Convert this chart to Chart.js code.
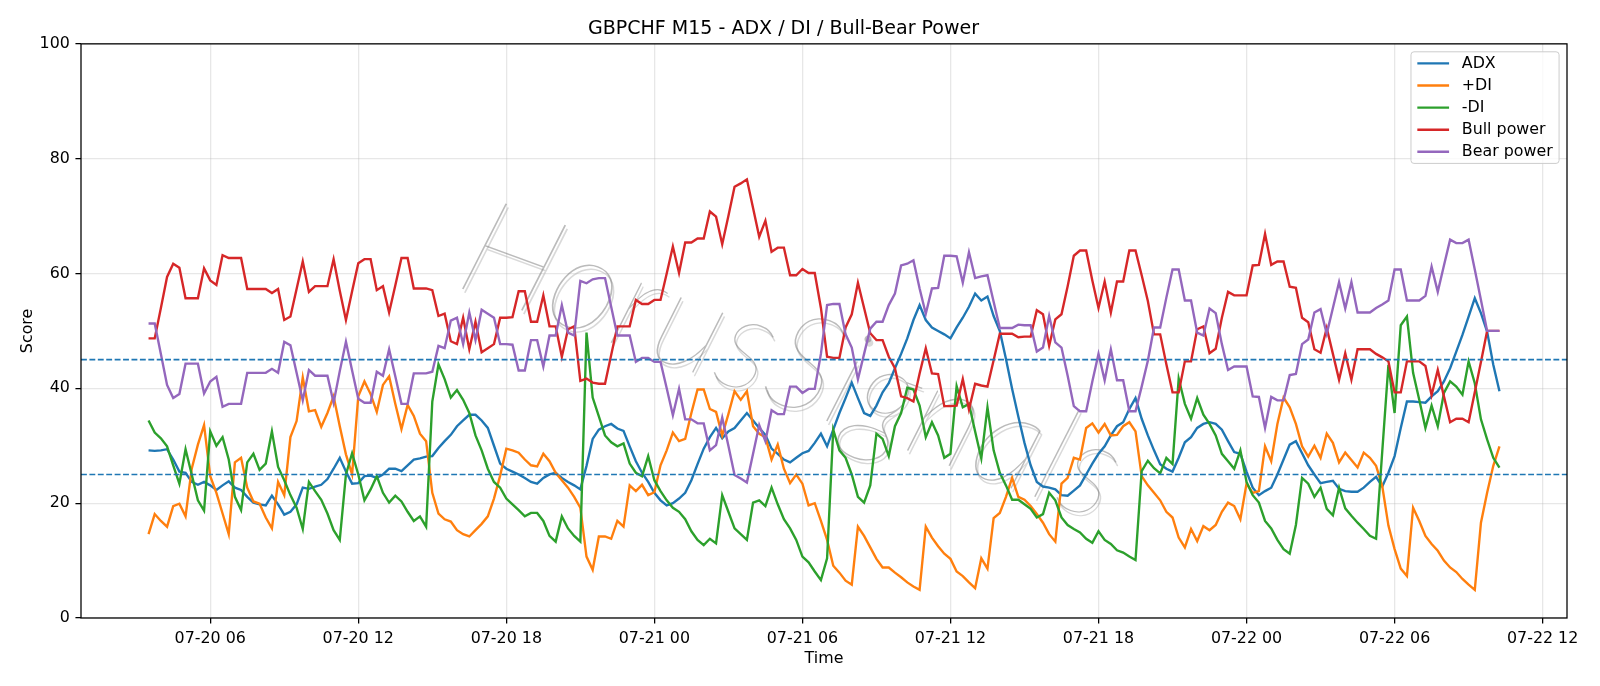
<!DOCTYPE html>
<html>
<head>
<meta charset="utf-8">
<title>GBPCHF M15 - ADX / DI / Bull-Bear Power</title>
<script src="https://cdn.jsdelivr.net/npm/chart.js@4.4.0/dist/chart.umd.min.js"></script>
<style>
  html, body { margin: 0; padding: 0; background: #fff; }
  #wrap { width: 1600px; height: 686px; }
</style>
</head>
<body>
<div id="wrap"><canvas id="chart" width="1600" height="686"></canvas></div>
<script>
// time axis: hours counted from 07-20 00:00, one bar every 15 minutes
const firstHour = 3.5;
const stepHours = 0.25;
const timeTicks = [6, 12, 18, 24, 30, 36, 42, 48, 54, 60];
const scoreTicks = [0, 20, 40, 60, 80, 100];
const thresholds = [25, 45];

const adx = [
  29.2, 29.1, 29.2, 29.4, 27.6, 25.5, 25.3, 23.7, 23.2, 23.7,
  23.1, 22.3, 23.1, 23.8, 22.7, 22.3, 21.1, 20.1, 19.8, 19.6,
  21.3, 19.8, 18.0, 18.5, 19.8, 22.7, 22.5, 22.9, 23.2, 24.2,
  26.0, 27.9, 25.5, 23.4, 23.5, 24.7, 24.8, 24.4, 25.0, 26.0,
  26.0, 25.6, 26.6, 27.6, 27.8, 28.1, 28.2, 29.6, 30.8, 31.9,
  33.4, 34.4, 35.4, 35.4, 34.4, 33.1, 30.0, 26.9, 26.0, 25.5,
  25.0, 24.4, 23.7, 23.4, 24.4, 25.0, 25.3, 24.4, 23.7, 23.1,
  22.4, 26.5, 31.2, 32.8, 33.4, 33.8, 33.0, 32.6, 29.9, 27.3,
  25.3, 23.7, 21.8, 20.5, 19.6, 20.0, 20.8, 21.8, 24.0, 26.8,
  29.5, 31.5, 33.1, 31.3, 32.5, 33.1, 34.4, 35.7, 34.4, 33.1,
  31.9, 29.5, 28.6, 27.6, 27.1, 27.9, 28.7, 29.1, 30.5, 32.1,
  29.9, 32.8, 35.7, 38.3, 41.0, 38.3, 35.7, 35.2, 37.0, 39.3,
  40.9, 43.5, 46.0, 48.7, 51.9, 54.5, 51.9, 50.6, 50.0, 49.4,
  48.7, 50.6, 52.3, 54.2, 56.5, 55.3, 56.0, 52.6, 50.0, 45.1,
  39.9, 35.1, 30.5, 26.6, 23.7, 22.9, 22.7, 22.4, 21.4, 21.3,
  22.2, 23.1, 25.0, 26.9, 28.6, 29.9, 31.8, 33.4, 34.1, 36.4,
  38.3, 34.7, 31.8, 29.2, 26.8, 26.0, 25.5, 27.9, 30.6, 31.5,
  33.1, 33.8, 34.1, 33.8, 32.8, 30.8, 28.9, 28.6, 25.5, 22.7,
  21.4, 22.1, 22.7, 25.0, 27.6, 30.2, 30.8, 28.7, 26.6, 25.0,
  23.5, 23.7, 23.9, 22.5, 22.1, 22.0, 22.0, 22.7, 23.7, 24.6,
  22.9, 25.3, 28.2, 33.1, 37.7, 37.7, 37.6, 37.5, 38.6, 39.5,
  41.2, 43.5, 46.4, 49.3, 52.5, 55.7, 53.1, 49.9, 44.1, 39.5
];

const plusDI = [
  14.6, 18.1, 16.9, 15.9, 19.5, 19.9, 17.7, 26.0, 30.2, 33.6,
  24.7, 21.8, 18.2, 14.6, 27.1, 27.9, 22.7, 20.3, 19.9, 17.5,
  15.6, 23.7, 21.4, 31.5, 34.3, 41.9, 36.0, 36.2, 33.3, 35.7,
  38.6, 33.4, 28.5, 25.0, 38.6, 41.2, 39.0, 35.9, 40.6, 42.1,
  37.3, 32.9, 37.1, 35.2, 32.1, 30.8, 21.8, 18.2, 17.2, 16.8,
  15.3, 14.6, 14.2, 15.3, 16.4, 17.7, 20.8, 24.8, 29.5, 29.2,
  28.8, 27.6, 26.6, 26.4, 28.6, 27.3, 25.3, 24.0, 22.7, 21.1,
  19.2, 10.7, 8.4, 14.2, 14.2, 13.8, 16.9, 15.9, 23.1, 22.1,
  23.2, 21.4, 21.9, 26.6, 29.2, 32.3, 30.8, 31.2, 35.7, 39.8,
  39.8, 36.4, 35.9, 31.8, 35.5, 39.5, 38.0, 39.5, 33.4, 32.1,
  31.5, 27.6, 30.2, 26.0, 23.5, 25.0, 23.4, 19.6, 20.0, 16.9,
  13.6, 9.1, 7.9, 6.5, 5.8, 15.9, 14.3, 12.3, 10.3, 8.8,
  8.8, 7.9, 7.1, 6.2, 5.5, 4.9, 15.9, 14.0, 12.5, 11.2,
  10.3, 8.1, 7.3, 6.2, 5.2, 10.4, 8.6, 17.4, 18.3, 21.1,
  24.4, 21.1, 20.6, 19.5, 18.1, 16.6, 14.6, 13.3, 23.4, 24.4,
  27.9, 27.6, 33.1, 33.9, 32.3, 33.8, 31.8, 31.9, 33.4, 34.1,
  32.5, 24.7, 23.1, 21.8, 20.5, 18.5, 17.5, 14.0, 12.3, 15.5,
  13.4, 16.0, 15.3, 16.2, 18.5, 20.1, 19.5, 17.2, 23.4, 21.8,
  22.1, 29.9, 27.3, 33.8, 38.4, 36.7, 33.8, 29.9, 28.1, 30.0,
  27.9, 32.1, 30.5, 27.1, 28.8, 27.5, 26.2, 28.8, 27.9, 26.5,
  23.0, 16.1, 12.0, 8.6, 7.3, 19.2, 16.9, 14.3, 12.9, 11.7,
  10.0, 8.8, 8.0, 6.8, 5.8, 4.9, 16.6, 21.8, 26.5, 29.9
];

const minusDI = [
  34.4, 32.3, 31.3, 29.9, 26.6, 23.4, 29.4, 25.0, 20.5, 18.7,
  32.5, 30.0, 31.5, 27.6, 21.1, 18.8, 27.1, 28.6, 25.8, 26.9,
  32.5, 26.3, 24.0, 21.4, 19.2, 15.5, 23.7, 22.1, 20.6, 18.2,
  15.3, 13.6, 25.0, 28.7, 25.0, 20.5, 22.4, 24.7, 21.8, 20.1,
  21.3, 20.3, 18.5, 16.9, 17.7, 15.9, 37.7, 44.2, 41.6, 38.4,
  39.7, 38.0, 35.7, 31.8, 29.2, 26.0, 23.7, 22.7, 20.8, 19.8,
  18.8, 17.7, 18.3, 18.3, 16.9, 14.3, 13.3, 17.7, 15.6, 14.3,
  13.3, 49.7, 38.4, 35.1, 31.8, 30.6, 29.9, 30.4, 26.9, 25.3,
  24.7, 28.2, 24.0, 22.1, 20.5, 19.2, 18.5, 17.2, 15.1, 13.6,
  12.7, 13.8, 13.0, 21.4, 18.5, 15.6, 14.6, 13.6, 20.1, 20.5,
  19.5, 22.7, 19.8, 17.2, 15.6, 13.6, 10.7, 9.7, 8.1, 6.6,
  10.4, 32.8, 29.2, 27.9, 25.0, 21.1, 20.1, 23.1, 32.1, 31.2,
  28.2, 33.4, 35.7, 40.1, 39.8, 37.0, 31.5, 34.1, 31.8, 27.9,
  28.6, 40.4, 36.7, 37.3, 32.5, 27.8, 36.7, 29.2, 25.3, 23.1,
  20.6, 20.6, 19.8, 19.0, 17.5, 18.1, 21.8, 20.5, 17.5, 16.2,
  15.5, 14.9, 13.8, 13.1, 15.1, 13.6, 12.9, 11.8, 11.4, 10.7,
  10.1, 25.6, 27.4, 26.1, 25.2, 27.9, 26.8, 41.7, 37.3, 34.7,
  38.3, 35.4, 33.8, 31.8, 28.6, 27.3, 26.0, 29.2, 23.7, 21.4,
  20.1, 16.9, 15.6, 13.6, 12.0, 11.2, 16.2, 24.4, 23.4, 21.1,
  22.7, 19.0, 17.9, 22.7, 19.1, 17.8, 16.6, 15.5, 14.3, 13.8,
  29.0, 44.1, 35.7, 51.0, 52.5, 42.7, 38.0, 33.1, 37.0, 33.4,
  39.2, 41.2, 40.3, 38.9, 44.7, 40.9, 34.6, 31.1, 27.9, 26.2
];

const bullPower = [
  48.7, 48.7, 54.0, 59.4, 61.7, 61.0, 55.7, 55.7, 55.7, 60.9,
  58.8, 58.0, 63.2, 62.7, 62.7, 62.7, 57.3, 57.3, 57.3, 57.3,
  56.6, 57.3, 51.9, 52.5, 57.3, 62.1, 56.8, 57.8, 57.8, 57.8,
  62.5, 57.0, 51.9, 56.9, 61.8, 62.5, 62.5, 57.1, 57.8, 53.2,
  57.9, 62.7, 62.7, 57.4, 57.4, 57.4, 57.1, 52.6, 53.0, 48.2,
  47.7, 52.3, 46.8, 51.6, 46.3, 47.0, 47.7, 52.3, 52.3, 52.4,
  56.9, 56.9, 51.6, 51.6, 56.2, 50.8, 50.8, 45.5, 50.3, 50.8,
  41.3, 41.7, 41.0, 40.8, 40.8, 45.8, 50.8, 50.8, 50.8, 55.4,
  54.7, 54.7, 55.4, 55.4, 60.0, 64.7, 60.1, 65.4, 65.4, 66.1,
  66.1, 70.8, 69.9, 65.1, 70.0, 75.1, 75.7, 76.4, 71.4, 66.4,
  69.2, 63.8, 64.5, 64.5, 59.7, 59.7, 60.8, 60.1, 60.1, 54.0,
  45.5, 45.3, 45.3, 50.6, 52.9, 58.4, 54.0, 49.6, 48.4, 48.4,
  45.5, 43.5, 38.6, 38.3, 37.7, 42.6, 47.0, 42.6, 42.5, 36.9,
  36.9, 37.0, 41.6, 36.3, 40.8, 40.5, 40.3, 44.9, 49.5, 49.5,
  49.5, 48.9, 49.0, 49.0, 53.6, 52.9, 47.4, 52.0, 52.9, 57.8,
  63.1, 64.0, 64.0, 58.8, 54.0, 58.6, 53.2, 58.6, 58.6, 64.0,
  64.0, 59.7, 55.2, 49.4, 49.4, 44.2, 39.3, 39.3, 44.7, 44.7,
  50.3, 50.8, 46.1, 46.9, 52.3, 56.8, 56.2, 56.2, 56.2, 61.4,
  61.5, 66.9, 61.5, 62.1, 62.1, 57.7, 57.5, 52.3, 51.5, 46.8,
  46.2, 50.5, 46.0, 41.5, 46.1, 41.5, 46.8, 46.8, 46.8, 46.0,
  45.4, 44.7, 39.3, 39.3, 44.7, 44.7, 44.7, 43.9, 38.8, 43.2,
  38.6, 34.1, 34.7, 34.7, 34.1, 39.3, 44.6, 50.0, 50.0, 50.0
];

const bearPower = [
  51.3, 51.3, 46.0, 40.6, 38.3, 39.0, 44.3, 44.3, 44.3, 39.1,
  41.2, 42.0, 36.8, 37.3, 37.3, 37.3, 42.7, 42.7, 42.7, 42.7,
  43.4, 42.7, 48.1, 47.5, 42.7, 37.9, 43.2, 42.2, 42.2, 42.2,
  37.5, 43.0, 48.1, 43.1, 38.2, 37.5, 37.5, 42.9, 42.2, 46.8,
  42.1, 37.3, 37.3, 42.6, 42.6, 42.6, 42.9, 47.4, 47.0, 51.8,
  52.3, 47.7, 53.2, 48.4, 53.7, 53.0, 52.3, 47.7, 47.7, 47.6,
  43.1, 43.1, 48.4, 48.4, 43.8, 49.2, 49.2, 54.5, 49.7, 49.2,
  58.7, 58.3, 59.0, 59.2, 59.2, 54.2, 49.2, 49.2, 49.2, 44.6,
  45.3, 45.3, 44.6, 44.6, 40.0, 35.3, 39.9, 34.6, 34.6, 33.9,
  33.9, 29.2, 30.1, 34.9, 30.0, 24.9, 24.3, 23.6, 28.6, 33.6,
  30.8, 36.2, 35.5, 35.5, 40.3, 40.3, 39.2, 39.9, 39.9, 46.0,
  54.5, 54.7, 54.7, 49.4, 47.1, 41.6, 46.0, 50.4, 51.6, 51.6,
  54.5, 56.5, 61.4, 61.7, 62.3, 57.4, 53.0, 57.4, 57.5, 63.1,
  63.1, 63.0, 58.4, 63.7, 59.2, 59.5, 59.7, 55.1, 50.5, 50.5,
  50.5, 51.1, 51.0, 51.0, 46.4, 47.1, 52.6, 48.0, 47.1, 42.2,
  36.9, 36.0, 36.0, 41.2, 46.0, 41.4, 46.8, 41.4, 41.4, 36.0,
  36.0, 40.3, 44.8, 50.6, 50.6, 55.8, 60.7, 60.7, 55.3, 55.3,
  49.7, 49.2, 53.9, 53.1, 47.7, 43.2, 43.8, 43.8, 43.8, 38.6,
  38.5, 33.1, 38.5, 37.9, 37.9, 42.3, 42.5, 47.7, 48.5, 53.2,
  53.8, 49.5, 54.0, 58.5, 53.9, 58.5, 53.2, 53.2, 53.2, 54.0,
  54.6, 55.3, 60.7, 60.7, 55.3, 55.3, 55.3, 56.1, 61.2, 56.8,
  61.4, 65.9, 65.3, 65.3, 65.9, 60.7, 55.4, 50.0, 50.0, 50.0
];

const series = [
  { label: 'ADX', values: adx, color: '#1f77b4' },
  { label: '+DI', values: plusDI, color: '#ff7f0e' },
  { label: '-DI', values: minusDI, color: '#2ca02c' },
  { label: 'Bull power', values: bullPower, color: '#d62728' },
  { label: 'Bear power', values: bearPower, color: '#9467bd' }
];

// matplotlib-like 5% x margins
const lastHour = firstHour + (adx.length - 1) * stepHours;
const span = lastHour - firstHour;
const xMin = firstHour - span * 0.05;
const xMax = lastHour + span * 0.05;

const PT = 1.5875; // px per point in the reference
const FONT = '"DejaVu Sans", "Liberation Sans", sans-serif';
const tickSize = 10 * PT;

function pad2(n) { return String(n).padStart(2, '0'); }
function timeLabel(h) {
  const day = 20 + Math.floor(h / 24);
  return '07-' + day + ' ' + pad2(h % 24);
}

const toPoints = vals => vals.map((v, i) => ({ x: firstHour + i * stepHours, y: v }));

const datasets = series.map((s, k) => ({
  label: s.label,
  data: toPoints(s.values),
  borderColor: s.color,
  backgroundColor: s.color,
  borderWidth: 1.5 * PT,
  pointRadius: 0,
  tension: 0,
  fill: false,
  order: 10 - k
}));
thresholds.forEach(t => {
  datasets.push({
    label: '',
    data: [{ x: xMin, y: t }, { x: xMax, y: t }],
    borderColor: '#1f77b4',
    borderWidth: 1 * PT,
    borderDash: [3.7 * PT, 1.6 * PT],
    pointRadius: 0,
    fill: false,
    order: 0
  });
});

Chart.defaults.font.family = FONT;
Chart.defaults.font.size = tickSize;
Chart.defaults.color = '#000';

const gridStyle = {
  color: 'rgba(176,176,176,0.3)',
  lineWidth: 0.8 * PT,
  tickLength: 3.5 * PT,
  tickColor: '#000',
  tickWidth: 0.8 * PT
};

// watermark behind the lines: thin grey letters with a soft offset copy
const watermark = {
  id: 'watermark',
  beforeDatasetsDraw(chart) {
    const ctx = chart.ctx;
    const text = 'HorusSignals';
    ctx.save();
    ctx.translate(792, 362);
    ctx.rotate(20 * Math.PI / 180);
    let size = 100;
    ctx.font = 'italic 200 ' + size + 'px Lato, ' + FONT;
    const w = ctx.measureText(text).width;
    size = size * 690 / w;
    ctx.font = 'italic 200 ' + size + 'px Lato, ' + FONT;
    ctx.textAlign = 'center';
    ctx.textBaseline = 'middle';
    ctx.fillStyle = 'rgba(170,170,170,0.45)';
    ctx.fillText(text, 3, 3);
    ctx.fillStyle = 'rgba(120,120,120,0.5)';
    ctx.fillText(text, 0, 0);
    ctx.restore();
  }
};

// axes frame on all four sides
const frame = {
  id: 'frame',
  afterDraw(chart) {
    const { ctx, chartArea: a } = chart;
    ctx.save();
    ctx.strokeStyle = '#000';
    ctx.lineWidth = 0.8 * PT;
    ctx.strokeRect(a.left, a.top, a.right - a.left, a.bottom - a.top);
    ctx.restore();
  }
};

// legend in the upper right corner of the axes
const legendBox = {
  id: 'legendBox',
  afterDraw(chart) {
    const { ctx, chartArea: a } = chart;
    const fs = tickSize;
    ctx.save();
    ctx.font = fs + 'px ' + FONT;
    const textW = Math.max(...series.map(s => ctx.measureText(s.label).width));
    const borderPad = 0.4 * fs, handleLen = 2 * fs, handleGap = 0.8 * fs;
    const rowH = 22.1;
    const w = borderPad + handleLen + handleGap + textW + borderPad;
    const h = 2 * 11.6 + rowH * (series.length - 1);
    const right = a.right - 0.5 * fs;
    const top = a.top + 0.5 * fs;
    const left = right - w;
    ctx.beginPath();
    ctx.roundRect(left, top, w, h, 3);
    ctx.fillStyle = 'rgba(255,255,255,0.8)';
    ctx.fill();
    ctx.strokeStyle = '#cccccc';
    ctx.lineWidth = 1;
    ctx.stroke();
    series.forEach((s, k) => {
      const cy = top + 11.6 + k * rowH;
      ctx.beginPath();
      ctx.moveTo(left + borderPad, cy);
      ctx.lineTo(left + borderPad + handleLen, cy);
      ctx.strokeStyle = s.color;
      ctx.lineWidth = 1.5 * PT;
      ctx.stroke();
      ctx.fillStyle = '#000';
      ctx.textAlign = 'left';
      ctx.textBaseline = 'middle';
      ctx.fillText(s.label, left + borderPad + handleLen + handleGap, cy);
    });
    ctx.restore();
  }
};

new Chart(document.getElementById('chart').getContext('2d'), {
  type: 'line',
  data: { datasets },
  options: {
    responsive: false,
    animation: false,
    devicePixelRatio: 1,
    layout: { padding: { left: 0, right: 33, top: 0, bottom: 0 } },
    scales: {
      x: {
        type: 'linear',
        min: xMin,
        max: xMax,
        afterBuildTicks: s => { s.ticks = timeTicks.map(v => ({ value: v })); },
        afterFit: s => { s.height = 68; },
        ticks: {
          callback: v => timeLabel(v),
          padding: 3.5 * PT,
          maxRotation: 0,
          autoSkip: false,
          font: { size: tickSize }
        },
        grid: gridStyle,
        border: { display: false },
        title: { display: true, text: 'Time', font: { size: tickSize }, padding: { top: 0, bottom: 18 } }
      },
      y: {
        min: 0,
        max: 100,
        afterBuildTicks: s => { s.ticks = scoreTicks.map(v => ({ value: v })); },
        afterFit: s => { s.width = 81; },
        ticks: { padding: 3.5 * PT, font: { size: tickSize } },
        grid: gridStyle,
        border: { display: false },
        title: { display: true, text: 'Score', font: { size: tickSize }, padding: { top: 18.5, bottom: 0 } }
      }
    },
    plugins: {
      legend: { display: false },
      tooltip: { enabled: false },
      title: {
        display: true,
        text: 'GBPCHF M15 - ADX / DI / Bull-Bear Power',
        color: '#000',
        font: { size: 12 * PT, weight: 'normal' },
        padding: { top: 18, bottom: 3 }
      }
    }
  },
  plugins: [watermark, frame, legendBox]
});
</script>
</body>
</html>
